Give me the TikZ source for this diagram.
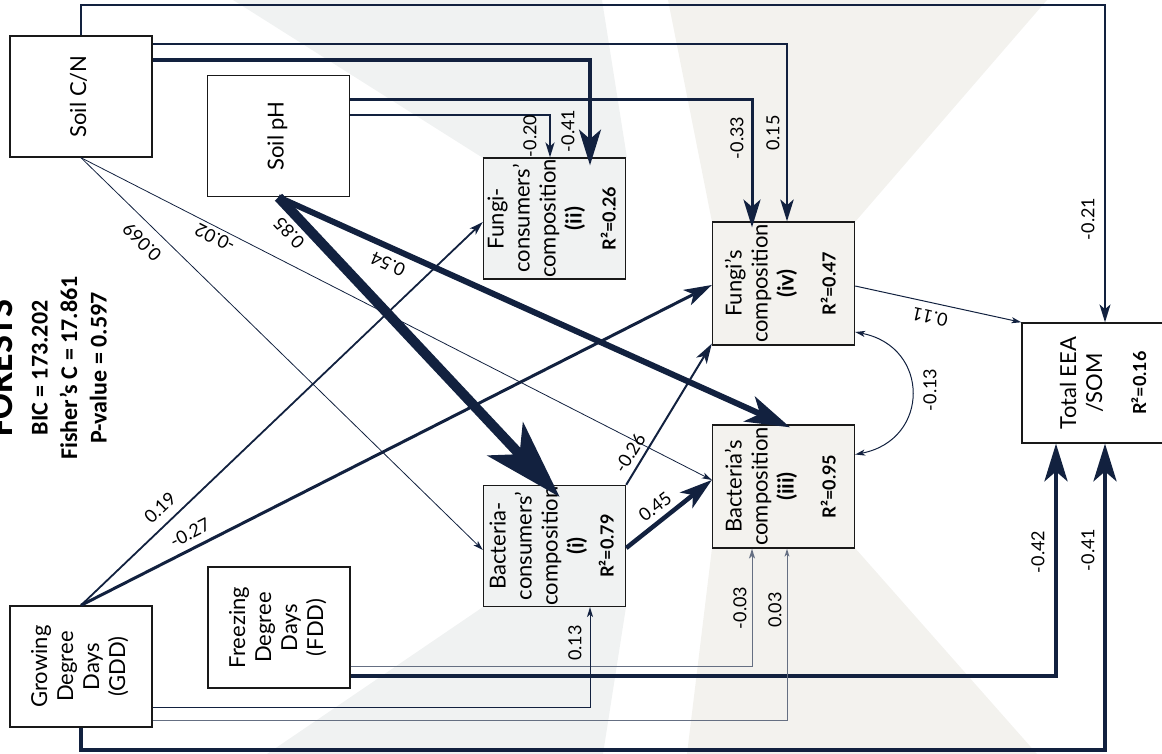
\documentclass[tikz,border=0pt]{standalone}
\usepackage{fontspec}
\setmainfont{Lato}
\newfontfamily\titlefont{Carlito}
\usetikzlibrary{arrows.meta}
\definecolor{navy}{HTML}{12213F}
\definecolor{greybg}{HTML}{F0F2F2}
\definecolor{sandbg}{HTML}{F3F2EE}
\newcommand{\vlab}[1]{\rotatebox{90}{\begin{tabular}{@{}c@{}}#1\end{tabular}}}
\newcommand{\rsq}[1]{{\fontsize{18}{20}\selectfont\bfseries R²=#1}}

\begin{document}
\begin{tikzpicture}[x=1pt, y=-1pt, font=\fontsize{22}{26}\selectfont,
  box/.style={draw=black!90, line width=1.4pt, minimum width=142pt, minimum height=121pt, inner sep=0pt, fill=white},
  link/.style={draw=navy, line width=#1},
  arr/.style={-{Stealth[length=#1, width'=0pt 0.62, inset'=0pt 0.27, line width=0pt]}},
  darr/.style={{Stealth[length=#1, width'=0pt 0.62, inset'=0pt 0.27, line width=0pt]}-{Stealth[length=#1, width'=0pt 0.62, inset'=0pt 0.27, line width=0pt]}},
  coef/.style={font=\fontsize{18}{20}\selectfont, inner sep=1pt}]
  \useasboundingbox (0,0) rectangle (1162,754);
  \fill[greybg] (233,0) -- (602,0) -- (627,158) -- (483,158) -- cycle;
  \fill[sandbg] (668,0) -- (1047,0) -- (855,222) -- (712,222) -- cycle;
  \fill[greybg] (267,754) -- (483,607) -- (626,607) -- (603,754) -- cycle;
  \fill[sandbg] (687,754) -- (712,548) -- (855,548) -- (1037,754) -- cycle;

  \node[rotate=90, align=center, inner sep=0pt, anchor=south, font=\titlefont\bfseries\fontsize{24}{29.5}\selectfont] (title) at (107,368)
    {{\fontsize{38}{33}\selectfont FORESTS}\\[6pt]BIC = 173.202\\Fisher’s C = 17.861\\P-value = 0.597};

  \node[box] (cn) at (81,96.5) {\vlab{Soil C/N}};
  \node[box] (ph) at (278.5,136) {\vlab{Soil pH}};
  \node[box] (gdd) at (81,666.5) {\vlab{Growing\\Degree\\Days\\(GDD)}};
  \node[box] (fdd) at (279,627.5) {\vlab{Freezing\\Degree\\Days\\(FDD)}};
  \node[box, fill=greybg] (fc) at (554.5,218.5) {\vlab{Fungi-\\consumers’\\composition\\\textbf{(ii)}\\[8pt]\rsq{0.26}}};
  \node[box, fill=greybg] (bc) at (554.5,546) {\vlab{Bacteria-\\consumers’\\composition\\\textbf{(i)}\\[4pt]\rsq{0.79}}};
  \node[box, fill=sandbg, minimum height=123pt] (fu) at (783.5,283.5) {\vlab{Fungi’s\\composition\\\textbf{(iv)}\\[16pt]\rsq{0.47}}};
  \node[box, fill=sandbg, minimum height=123pt] (ba) at (783.5,486.5) {\vlab{Bacteria’s\\composition\\\textbf{(iii)}\\[16pt]\rsq{0.95}}};
  \node[box, minimum width=168pt, minimum height=120pt] (eea) at (1106,383) {\vlab{Total EEA\\/SOM\\[18pt]\rsq{0.16}}};

  \draw[link=2pt, arr=18pt] (cn.north) -- (cn.north |- 0,5) -| ([xshift=-1pt]eea.north);
  \draw[link=1.2pt, arr=22pt] (cn.east |- 0,44) -| ([xshift=3.5pt]fu.north);
  \draw[link=4.5pt, arr=36pt] (cn.east |- 0,60) -| ([xshift=35.5pt,yshift=-8pt]fc.north);
  \draw[link=3pt, arr=28pt] (ph.east |- 0,100) -| ([xshift=-31.5pt,yshift=-6pt]fu.north);
  \draw[link=2pt, arr=15pt] (ph.east |- 0,115) -| ([xshift=-4.5pt]fc.north);
  \draw[link=0.8pt, arr=10pt] (cn.south) -- ([yshift=-4pt]bc.west);
  \draw[link=0.8pt, arr=10pt] (cn.south) -- ([yshift=6.5pt]ba.west);
  \draw[link=10pt, arr=80pt] (ph.south) -- ([xshift=5pt,yshift=-12pt]bc.north);
  \draw[link=6pt, arr=45pt] (ph.south) -- ([xshift=6.5pt,yshift=-3pt]ba.north);
  \draw[link=1.8pt, arr=14pt] (gdd.north) -- ([yshift=-3.5pt]fc.west);
  \draw[link=3pt, arr=28pt] (gdd.north) -- ([yshift=-1.5pt]fu.west);
  \draw[link=2pt, arr=20pt] (bc.north east) -- ([yshift=2pt]fu.south west);
  \draw[link=4.5pt, arr=33pt] ([yshift=-2pt]bc.east) -- ([yshift=6.5pt]ba.west);
  \draw[link=1pt, arr=10pt] ([yshift=-2.5pt]fu.east) -- (eea.north west);
  \draw[link=1pt, darr=10pt] ([yshift=-48.5pt]fu.east) .. controls +(75,15) and +(75,-15) .. ([yshift=32pt]ba.east);
  \draw[link=4pt, arr=38pt] ([yshift=-48.5pt]fdd.east) -| ([xshift=-50pt]eea.south);
  \draw[link=1pt, draw=navy!65, arr=10pt] ([yshift=-38.5pt]fdd.east) -| ([xshift=-31.5pt]ba.south);
  \draw[link=1pt, arr=10pt] ([yshift=-40.5pt]gdd.east) -| ([xshift=35.5pt]bc.south);
  \draw[link=1pt, draw=navy!65, arr=8pt] ([yshift=-53.5pt]gdd.east) -| ([xshift=3.5pt]ba.south);
  \draw[link=4pt, arr=38pt] (gdd.south) -- (gdd.south |- 0,750) -| ([xshift=-1pt]eea.south);

  \node[coef, rotate=90] (k21) at (1088,219) {-0.21};
  \node[coef, rotate=90] (k15) at (773,133) {0.15};
  \node[coef, rotate=90] (k41a) at (568,131) {-0.41};
  \node[coef, rotate=90] (k20) at (530,136) {-0.20};
  \node[coef, rotate=90] (k33) at (737,138) {-0.33};
  \node[coef, rotate=133] (k85) at (289,233) {0.85};
  \node[coef, rotate=155.6] (k54) at (388,264) {0.54};
  \node[coef, rotate=135.6] (k069) at (142,242) {0.069};
  \node[coef, rotate=152.9] (k02) at (215,238) {-0.02};
  \node[coef, rotate=43.7] (k19) at (160,508) {0.19};
  \node[coef, rotate=27] (k27) at (190,533) {-0.27};
  \node[coef, rotate=58.5] (k26) at (630,453) {-0.26};
  \node[coef, rotate=37.7] (k45) at (655,507) {0.45};
  \node[coef, rotate=167.5] (k11) at (930,317) {0.11};
  \node[coef, rotate=90] (k13c) at (930,390) {-0.13};
  \node[coef, rotate=90] (k42) at (1038,552) {-0.42};
  \node[coef, rotate=90] (k41b) at (1088,550) {-0.41};
  \node[coef, rotate=90] (k03n) at (740,608) {-0.03};
  \node[coef, rotate=90] (k03p) at (775,610) {0.03};
  \node[coef, rotate=90] (k13) at (575,643) {0.13};
\end{tikzpicture}
\end{document}
